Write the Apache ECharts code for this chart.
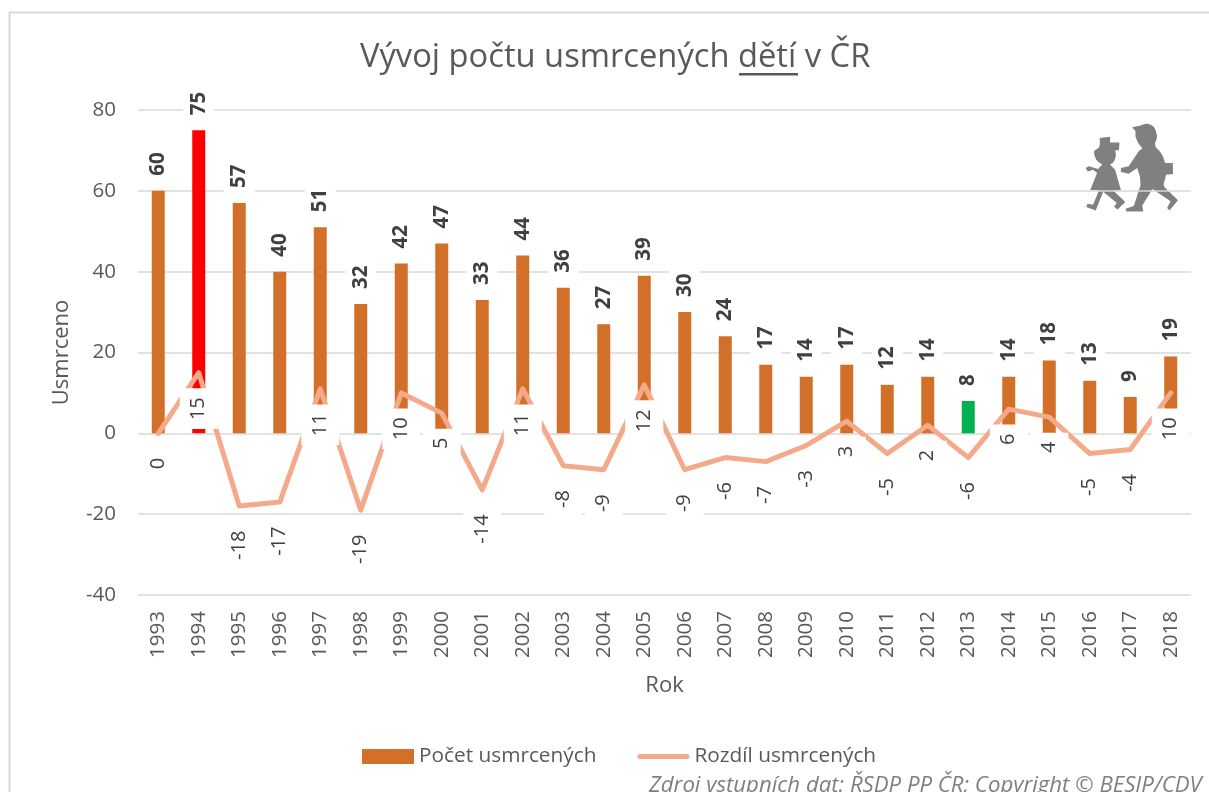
<!DOCTYPE html>
<html><head><meta charset="utf-8">
<style>html,body{margin:0;padding:0;background:#fff}#c{width:1209px;height:792px}</style>
<script src="https://cdn.jsdelivr.net/npm/echarts@6/dist/echarts.min.js"></script></head>
<body><div id="c"></div>
<script>
const years = ['1993','1994','1995','1996','1997','1998','1999','2000','2001','2002','2003','2004','2005','2006','2007','2008','2009','2010','2011','2012','2013','2014','2015','2016','2017','2018'];
const deaths = [60,75,57,40,51,32,42,47,33,44,36,27,39,30,24,17,14,17,12,14,8,14,18,13,9,19];
const diffs = [0,15,-18,-17,11,-19,10,5,-14,11,-8,-9,12,-9,-6,-7,-3,3,-5,2,-6,6,4,-5,-4,10];
const highlight = {'1994':'#FF0000','2013':'#00B050'};
const FONT = '"Open Sans", sans-serif';
const boy = 'M215 80L240 75Q262 62 280 80Q295 105 282 128L285 140Q305 155 312 185L335 185L335 218L315 220L310 240Q305 250 312 258L350 295L325 325L318 318L328 298L275 262L245 310L248 328L198 328L196 320L220 312L240 250L238 225L230 200L205 217L182 212L182 200L205 195L235 150L245 143L232 125L225 108L225 92Z';
const girl = 'M120 112L150 108L150 125L178 125L176 148L165 148Q172 170 158 185L150 190L165 205L182 265L160 267L195 300L172 322L162 313L170 303L130 270L108 325L80 315L84 305L100 308L118 265L92 265L112 215L100 205L85 210L78 200L88 195L115 203L127 190Q102 178 103 150L118 140L120 130Z';
const lineIcon = 'path://M0 0L0.01 0L0 0.01ZM0 15L0.01 15L0 14.99ZM2.5 5L49.5 5A2.5 2.5 0 0 1 49.5 10L2.5 10A2.5 2.5 0 0 1 2.5 5Z';
echarts.graphic.registerShape('boyIcon', echarts.graphic.extendPath(boy));
echarts.graphic.registerShape('girlIcon', echarts.graphic.extendPath(girl));
const chart = echarts.init(document.getElementById('c'));
chart.setOption({
  animation:false,
  textStyle:{fontFamily:FONT},
  grid:{left:138,right:18,top:110,height:485,containLabel:false},
  legend:{left:357,top:741,itemWidth:52,itemHeight:15,itemGap:41,
    textStyle:{fontSize:20.8,color:'#595959',fontFamily:FONT},
    data:[{name:'Počet usmrcených',icon:'rect'},{name:'Rozdíl usmrcených',icon:lineIcon,itemStyle:{color:'#F4A98A'}}]},
  xAxis:{type:'category',data:years,name:'Rok',nameLocation:'middle',nameGap:80,
    nameTextStyle:{fontSize:22,color:'#595959'},
    axisLine:{show:false,onZero:false},axisTick:{show:false},
    axisLabel:{rotate:90,fontSize:20.5,color:'#595959',margin:16}},
  yAxis:{type:'value',min:-40,max:80,interval:20,name:'Usmrceno',nameLocation:'middle',nameGap:65,
    nameTextStyle:{fontSize:22,color:'#595959'},
    axisLine:{show:false},axisTick:{show:false},
    axisLabel:{fontSize:20.5,color:'#595959',margin:22},
    splitLine:{lineStyle:{color:'#D9D9D9',width:1.5}}},
  series:[
    {name:'Počet usmrcených',type:'bar',barWidth:13,z:2,
     data:deaths.map((v,i)=>({value:v,itemStyle:{color:highlight[years[i]]||'#D2702A'}})),
     itemStyle:{color:'#D2702A'},
     label:{show:true,position:'top',rotate:90,align:'left',verticalAlign:'middle',distance:6,fontSize:20.5,fontWeight:'bold',color:'#404040',
       backgroundColor:'#fff',padding:[5,5,5,9]}},
    {name:'Rozdíl usmrcených',type:'line',symbol:'circle',symbolSize:1,z:3,
     data:diffs,lineStyle:{color:'#F4A98A',width:5,cap:'round',join:'round'},itemStyle:{color:'#F4A98A'},
     label:{show:true,position:'bottom',rotate:90,align:'right',verticalAlign:'middle',distance:15,fontSize:20,color:'#404040',
       backgroundColor:'#fff',padding:[9,9]}}
  ],
  graphic:[
    {type:'rect',shape:{x:9.5,y:12.5,width:1300,height:900},style:{fill:'none',stroke:'#D9D9D9',lineWidth:2},silent:true,z:-1},
    {type:'text',x:360,y:41.5,style:{text:'Vývoj počtu usmrcených dětí v ČR',fontSize:32.7,fontFamily:FONT,fill:'#595959'}},
    {type:'rect',shape:{x:739,y:73,width:59,height:2.5},style:{fill:'#595959'}},
    {type:'text',x:649,y:775,style:{text:'Zdroj vstupních dat: ŘSDP PP ČR; Copyright © BESIP/CDV',fontSize:22.2,fontStyle:'italic',fontFamily:FONT,fill:'#7F7F7F'}},
    {type:'boyIcon',x:1059,y:100,scaleX:0.34,scaleY:0.34,style:{fill:'#808080'}},
    {type:'girlIcon',x:1059,y:100,scaleX:0.34,scaleY:0.34,style:{fill:'#808080'}}
  ]
});
</script></body></html>
